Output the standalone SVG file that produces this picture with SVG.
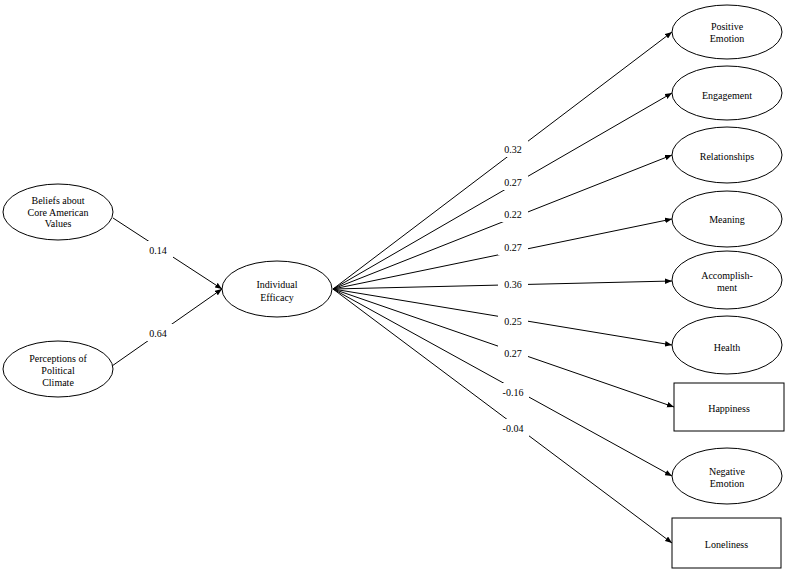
<svg xmlns="http://www.w3.org/2000/svg" width="786" height="570" viewBox="0 0 786 570" font-family="'Liberation Serif', 'Times New Roman', Times, serif">
<style>
.n{fill:#fff;stroke:#000;stroke-width:1}
.t{font-family:'Liberation Serif','Times New Roman',Times,serif;font-size:10px;fill:#000;text-anchor:middle}
.c{stroke:#000;stroke-width:1;fill:none;marker-end:url(#ah)}
.bg{fill:#fff;stroke:none}
</style>
<defs>
<marker id="ah" markerUnits="userSpaceOnUse" markerWidth="8" markerHeight="6" refX="7" refY="3" orient="auto">
<path d="M0,0.2 L7,3 L0,5.8 Z" fill="#000"/>
</marker>
</defs>
<rect width="786" height="570" fill="#fff"/>
<g id="connectors">
<line class="c" x1="113" y1="218" x2="222" y2="289"/>
<line class="c" x1="112" y1="366" x2="222" y2="289"/>
<line class="c" x1="333" y1="289" x2="672" y2="32"/>
<line class="c" x1="333" y1="289" x2="672" y2="93"/>
<line class="c" x1="333" y1="289" x2="672" y2="155"/>
<line class="c" x1="333" y1="289" x2="672" y2="219"/>
<line class="c" x1="333" y1="289" x2="672" y2="281"/>
<line class="c" x1="333" y1="289" x2="672" y2="345"/>
<line class="c" x1="333" y1="289" x2="674" y2="407"/>
<line class="c" x1="333" y1="289" x2="672" y2="476"/>
<line class="c" x1="333" y1="289" x2="672" y2="543"/>
<g id="labels">
<rect class="bg" x="143" y="241" width="30" height="17"/><text class="t" x="158" y="253.5">0.14</text>
<rect class="bg" x="143" y="324" width="30" height="17"/><text class="t" x="158" y="336.5">0.64</text>
<rect class="bg" x="498" y="140" width="30" height="17"/><text class="t" x="513" y="152.5">0.32</text>
<rect class="bg" x="498" y="173" width="30" height="17"/><text class="t" x="513" y="185.5">0.27</text>
<rect class="bg" x="498" y="205" width="30" height="17"/><text class="t" x="513" y="217.5">0.22</text>
<rect class="bg" x="498" y="238" width="30" height="17"/><text class="t" x="513" y="250.5">0.27</text>
<rect class="bg" x="498" y="275" width="30" height="17"/><text class="t" x="513" y="287.5">0.36</text>
<rect class="bg" x="498" y="312" width="30" height="17"/><text class="t" x="513" y="324.5">0.25</text>
<rect class="bg" x="498" y="344" width="30" height="17"/><text class="t" x="513" y="356.5">0.27</text>
<rect class="bg" x="497" y="383" width="32" height="17"/><text class="t" x="513" y="395.5">-0.16</text>
<rect class="bg" x="497" y="419" width="32" height="17"/><text class="t" x="513" y="431.5">-0.04</text>
</g>
</g>
<g id="beliefs">
<ellipse class="n" cx="58" cy="212" rx="55" ry="28"/>
<text class="t" x="58" y="203.5">Beliefs about</text>
<text class="t" x="58" y="215.5">Core American</text>
<text class="t" x="58" y="227">Values</text>
</g>
<g id="perceptions">
<ellipse class="n" cx="58" cy="369" rx="55" ry="28"/>
<text class="t" x="58" y="361.5">Perceptions of</text>
<text class="t" x="58" y="373.5">Political</text>
<text class="t" x="58" y="385.5">Climate</text>
</g>
<g id="efficacy">
<ellipse class="n" cx="277" cy="289" rx="55" ry="28"/>
<text class="t" x="277" y="287.5">Individual</text>
<text class="t" x="277" y="300.5">Efficacy</text>
</g>
<g id="positive-emotion">
<ellipse class="n" cx="727" cy="32" rx="55" ry="27"/>
<text class="t" x="727" y="29.5">Positive</text>
<text class="t" x="727" y="41.5">Emotion</text>
</g>
<g id="engagement">
<ellipse class="n" cx="727" cy="93" rx="55" ry="27"/>
<text class="t" x="727" y="98.5">Engagement</text>
</g>
<g id="relationships">
<ellipse class="n" cx="727" cy="155" rx="55" ry="28"/>
<text class="t" x="727" y="159.5">Relationships</text>
</g>
<g id="meaning">
<ellipse class="n" cx="727" cy="219" rx="55" ry="28"/>
<text class="t" x="727" y="222.5">Meaning</text>
</g>
<g id="accomplishment">
<ellipse class="n" cx="727" cy="280" rx="55" ry="29"/>
<text class="t" x="727" y="278.5">Accomplish-</text>
<text class="t" x="727" y="290.5">ment</text>
</g>
<g id="health">
<ellipse class="n" cx="727" cy="345" rx="55" ry="29"/>
<text class="t" x="727" y="350.5">Health</text>
</g>
<g id="happiness">
<rect class="n" x="674" y="383" width="110" height="48"/>
<text class="t" x="729" y="411.5">Happiness</text>
</g>
<g id="negative-emotion">
<ellipse class="n" cx="727" cy="476" rx="55" ry="28"/>
<text class="t" x="727" y="474.5">Negative</text>
<text class="t" x="727" y="486.5">Emotion</text>
</g>
<g id="loneliness">
<rect class="n" x="672" y="518" width="109" height="50"/>
<text class="t" x="726.5" y="547.5">Loneliness</text>
</g>
</svg>
